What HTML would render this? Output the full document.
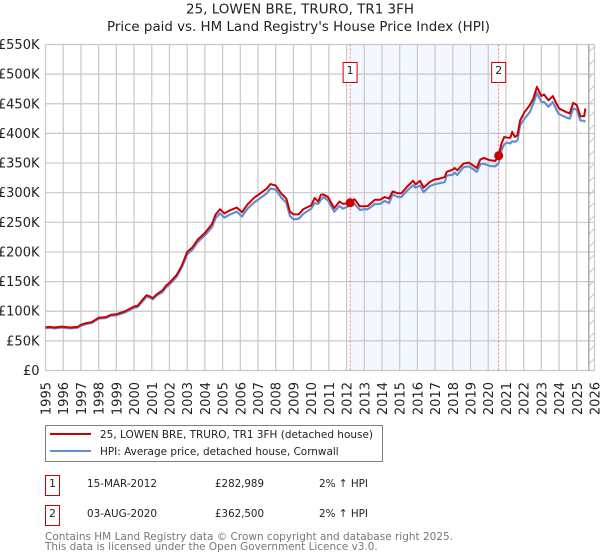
<!DOCTYPE html>
<html>
<head>
<meta charset="utf-8">
<title>25, LOWEN BRE, TRURO, TR1 3FH</title>
<style>
html,body{margin:0;padding:0;background:#fff;}
body{width:600px;height:560px;overflow:hidden;}
svg{display:block;font-family:"DejaVu Sans","Liberation Sans",sans-serif;}
</style>
</head>
<body>
<svg id="chart" xmlns="http://www.w3.org/2000/svg" width="600" height="560" viewBox="0 0 600 560">
<defs>
<pattern id="hatch" width="13" height="13" patternUnits="userSpaceOnUse" patternTransform="translate(586 3)">
<line x1="0" y1="13" x2="13" y2="0" stroke="#c8c8c8" stroke-width="1"/>
</pattern>
</defs>
<text x="186" y="13.5" font-size="13" fill="#222" textLength="228" lengthAdjust="spacingAndGlyphs">25, LOWEN BRE, TRURO, TR1 3FH</text>
<text x="107" y="31" font-size="13" fill="#222" textLength="383" lengthAdjust="spacingAndGlyphs">Price paid vs. HM Land Registry's House Price Index (HPI)</text>
<g id="plot"></g>
<g>
<rect x="45.5" y="425.5" width="337" height="36" fill="#fff" stroke="#808080" stroke-width="1"/>
<line x1="50" y1="434" x2="91" y2="434" stroke="#cc0000" stroke-width="2"/>
<text x="100" y="438" font-size="11" fill="#222" textLength="273" lengthAdjust="spacingAndGlyphs">25, LOWEN BRE, TRURO, TR1 3FH (detached house)</text>
<line x1="50" y1="451" x2="91" y2="451" stroke="#6090d0" stroke-width="2"/>
<text x="100" y="455" font-size="11" fill="#222" textLength="238.7" lengthAdjust="spacingAndGlyphs">HPI: Average price, detached house, Cornwall</text>
</g>
<g font-size="11" fill="#222">
<g>
<rect x="45.5" y="475.5" width="14" height="20" fill="#fff" stroke="#cc0000" stroke-width="1"/>
<text x="52.5" y="487" text-anchor="middle">1</text>
<text x="87" y="487" textLength="70" lengthAdjust="spacingAndGlyphs">15-MAR-2012</text>
<text x="215" y="487" textLength="49" lengthAdjust="spacingAndGlyphs">£282,989</text>
<text x="319" y="487" textLength="49" lengthAdjust="spacingAndGlyphs">2% ↑ HPI</text>
</g>
<g>
<rect x="45.5" y="505.5" width="14" height="20" fill="#fff" stroke="#cc0000" stroke-width="1"/>
<text x="52.5" y="517" text-anchor="middle">2</text>
<text x="87" y="517" textLength="70" lengthAdjust="spacingAndGlyphs">03-AUG-2020</text>
<text x="215" y="517" textLength="49" lengthAdjust="spacingAndGlyphs">£362,500</text>
<text x="319" y="517" textLength="49" lengthAdjust="spacingAndGlyphs">2% ↑ HPI</text>
</g>
</g>
<text x="45" y="540" font-size="11" fill="#777" textLength="408" lengthAdjust="spacingAndGlyphs">Contains HM Land Registry data © Crown copyright and database right 2025.</text>
<text x="45" y="550" font-size="11" fill="#777" textLength="332.7" lengthAdjust="spacingAndGlyphs">This data is licensed under the Open Government Licence v3.0.</text>
</svg>
<script>
const yTickValues = [0, 50, 100, 150, 200, 250, 300, 350, 400, 450, 500, 550];
const yTickLabels = ["£0", "£50K", "£100K", "£150K", "£200K", "£250K", "£300K", "£350K", "£400K", "£450K", "£500K", "£550K"];
const xTickYears = [1995, 1996, 1997, 1998, 1999, 2000, 2001, 2002, 2003, 2004, 2005, 2006, 2007, 2008, 2009, 2010, 2011, 2012, 2013, 2014, 2015, 2016, 2017, 2018, 2019, 2020, 2021, 2022, 2023, 2024, 2025, 2026];
const seriesDates = [1995.0, 1995.3, 1995.5, 1995.9, 1996.4, 1996.8, 1997.0, 1997.3, 1997.6, 1998.0, 1998.4, 1998.7, 1999.0, 1999.5, 2000.0, 2000.2, 2000.5, 2000.7, 2000.9, 2001.05, 2001.3, 2001.6, 2001.8, 2002.0, 2002.4, 2002.7, 2003.0, 2003.3, 2003.6, 2004.0, 2004.4, 2004.6, 2004.85, 2005.1, 2005.4, 2005.8, 2006.1, 2006.4, 2006.8, 2007.0, 2007.5, 2007.7, 2008.0, 2008.3, 2008.6, 2008.8, 2009.0, 2009.3, 2009.55, 2010.0, 2010.2, 2010.4, 2010.55, 2010.7, 2010.95, 2011.3, 2011.6, 2011.8, 2012.2, 2012.45, 2012.75, 2013.0, 2013.2, 2013.6, 2013.9, 2014.15, 2014.4, 2014.6, 2014.9, 2015.1, 2015.4, 2015.75, 2015.9, 2016.15, 2016.35, 2016.7, 2016.95, 2017.25, 2017.55, 2017.65, 2018.0, 2018.1, 2018.25, 2018.6, 2018.9, 2019.15, 2019.35, 2019.55, 2019.75, 2020.1, 2020.4, 2020.59, 2020.75, 2020.9, 2021.05, 2021.25, 2021.35, 2021.5, 2021.65, 2021.8, 2022.05, 2022.35, 2022.55, 2022.75, 2023.0, 2023.15, 2023.4, 2023.65, 2023.85, 2024.0, 2024.4, 2024.6, 2024.8, 2025.0, 2025.2, 2025.42, 2025.48];
const priceValues = [73, 73.5, 72.5, 74, 72.5, 73.5, 77, 80, 81.5, 89, 90, 94, 95, 100, 108, 109, 120, 127, 125, 122, 129, 135, 143, 148, 161, 177, 200, 208, 221, 232, 247, 263, 272, 265, 270, 275, 267, 280, 292, 296, 307, 314.6, 312, 299, 290, 268, 263.5, 263.5, 272, 278.6, 291, 285, 296.6, 297, 292.7, 274, 285, 281, 283, 289, 277, 277, 277.5, 288, 288, 292.7, 290, 302, 299, 299, 309.6, 320, 314, 320, 308.5, 318, 322, 323.7, 326.5, 335, 339, 341.7, 337.8, 349, 350.7, 346, 341.7, 355.8, 358.6, 354.7, 353.6, 362.5, 383, 394, 393, 392.5, 402.6, 394, 397, 422, 436, 447.7, 459, 478.7, 463, 465.7, 456, 463, 450.5, 442, 436, 433.6, 451.6, 447.7, 429, 429, 442];
const hpiValues = [71.5, 72, 71, 72.5, 71, 72, 75.5, 78.5, 80, 87.5, 88.5, 92.5, 93, 98, 106, 107, 117.5, 124.5, 123, 120, 127, 132, 140, 145, 158, 174, 196, 204, 217, 228, 242, 257, 265, 258, 263, 268, 260, 273, 284, 288, 299, 307, 305, 292, 283, 261, 255, 256, 264, 273, 282.5, 281, 288, 292.7, 287, 268, 277.5, 273, 278.6, 281, 271, 272, 272, 281, 281, 286, 282.5, 297, 292.7, 292.7, 303, 312.4, 308.5, 312, 301, 311, 314, 316, 318, 329, 330.4, 334, 330, 343, 344.5, 340, 335, 348, 349, 345, 344.5, 350, 371.6, 381.7, 384.5, 383, 386.8, 385.7, 388.5, 414, 425, 436, 450.5, 468.6, 453, 453, 445, 453, 440, 432.5, 427, 425, 442, 440, 422, 421, 419.5];
const saleNumbers = ["1", "2"];
const saleDates = [2012.2, 2020.59];
const salePrices = [282.989, 362.5];
const dataEndDate = 2025.68;

const NS = "http://www.w3.org/2000/svg";
const plot = document.getElementById("plot");
const L = 45.5, R = 594.5, T = 44.5, B = 370.5;
function xScale(year) { return L + (year - 1995) * (R - L) / 31; }
function yScale(val) { return B - val * (B - T) / 550; }
function make(tag, attrs, parent) {
  const el = document.createElementNS(NS, tag);
  for (const k in attrs) el.setAttribute(k, attrs[k]);
  (parent || plot).appendChild(el);
  return el;
}

const shade = make("rect", { x: xScale(saleDates[0]), y: T, width: xScale(saleDates[1]) - xScale(saleDates[0]), height: B - T, fill: "#f3f7ff" });



const hatch = make("rect", { x: xScale(dataEndDate), y: T, width: R - xScale(dataEndDate), height: B - T, fill: "url(#hatch)" });



yTickValues.forEach(function (v, i) {
  const g = make("line", { x1: L, x2: R, y1: yScale(v), y2: yScale(v), stroke: "#c8c8c8", "stroke-width": 1.2 });
  
  
  const t = make("text", { x: 39.5, y: yScale(v) + 4.5, "text-anchor": "end", "font-size": 13, fill: "#222" });
  t.textContent = yTickLabels[i];
  
  
});

xTickYears.forEach(function (yr) {
  const g = make("line", { x1: xScale(yr), x2: xScale(yr), y1: T, y2: B, stroke: "#c8c8c8", "stroke-width": 1.2 });
  
  
  const x = xScale(yr) + 5, y = 382;
  const t = make("text", { x: x, y: y, "text-anchor": "end", "font-size": 13, fill: "#222", transform: "rotate(-90 " + x + " " + y + ")" });
  t.textContent = String(yr);
  
  
});

const endLine = make("line", { x1: xScale(dataEndDate), x2: xScale(dataEndDate), y1: T, y2: B, stroke: "#999", "stroke-width": 1.2 });



saleDates.forEach(function (d) {
  const v = make("line", { x1: xScale(d), x2: xScale(d), y1: T, y2: B, stroke: "#f07080", "stroke-width": 1, "stroke-dasharray": "2 2" });
  
  
});

function pathFor(values) {
  return seriesDates.map(function (d, i) { return xScale(d).toFixed(2) + "," + yScale(values[i]).toFixed(2); }).join(" ");
}
const hpiLine = make("polyline", { points: pathFor(hpiValues), fill: "none", stroke: "#6090d0", "stroke-width": 2.2, "stroke-linejoin": "round" });


const priceLine = make("polyline", { points: pathFor(priceValues), fill: "none", stroke: "#cc0000", "stroke-width": 2, "stroke-linejoin": "round" });



saleDates.forEach(function (d, i) {
  const c = make("circle", { cx: xScale(d), cy: yScale(salePrices[i]), r: 4.5, fill: "#cc0000" });
  
  
  const b = make("rect", { x: xScale(d) - 7, y: 62.5, width: 14, height: 20, fill: "#fff", stroke: "#cc0000", "stroke-width": 1 });
  
  
  const t = make("text", { x: xScale(d), y: 74, "text-anchor": "middle", "font-size": 11, fill: "#222" });
  t.textContent = saleNumbers[i];
  
  
});
</script>
</body>
</html>
